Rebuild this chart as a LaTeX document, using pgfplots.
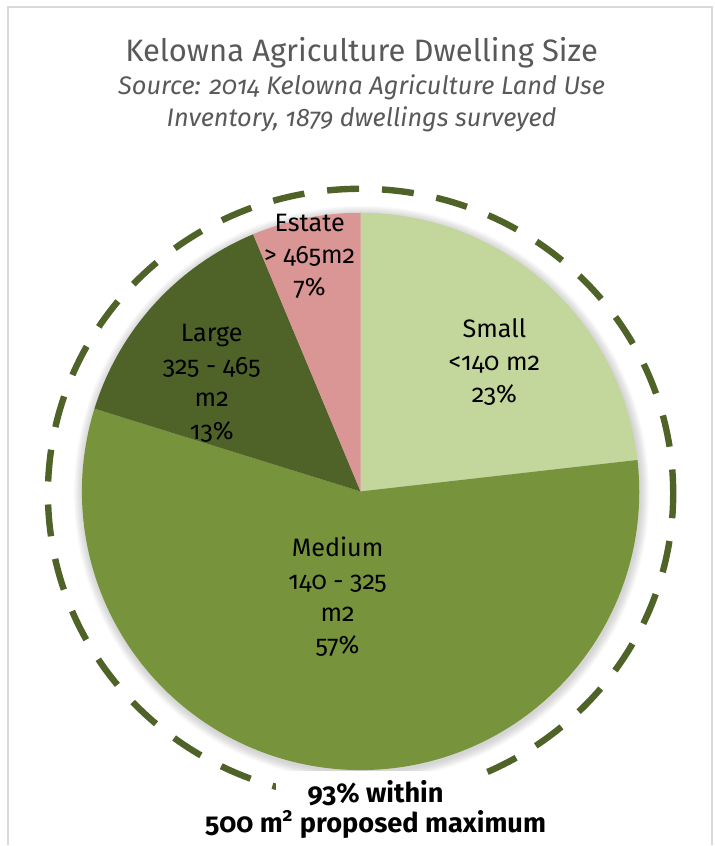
\documentclass[border=0pt]{standalone}
\usepackage{pgfplots}
\pgfplotsset{compat=1.18}
\usepackage{fontspec}
\setmainfont{Fira Sans}[Numbers=OldStyle]
\definecolor{cSmall}{HTML}{C3D69B}
\definecolor{cMedium}{HTML}{77933C}
\definecolor{cLarge}{HTML}{4F6228}
\definecolor{cEstate}{HTML}{D99694}
\definecolor{cDash}{HTML}{4F6228}
\definecolor{cTitle}{HTML}{595959}
\definecolor{cFrame}{HTML}{D9D9D9}
% slice shares in percent
\def\vSmall{23.2}
\def\vMedium{56.6}
\def\vLarge{13.9}
\def\vEstate{6.3}
\pgfmathsetmacro{\aA}{90}
\pgfmathsetmacro{\aB}{\aA-3.6*\vSmall}
\pgfmathsetmacro{\aC}{\aB-3.6*\vMedium}
\pgfmathsetmacro{\aD}{\aC-3.6*\vLarge}
\pgfmathsetmacro{\aE}{\aD-3.6*\vEstate}
% one node per text line: x (px), baseline y (px from top), text
\newcommand{\lbl}[3]{\node[anchor=base, inner sep=0pt] at (axis cs:#1,{846-#2}) {#3};}
\newcommand{\slice}[3]{\fill[#3] (axis cs:361,354) -- (axis cs:{361+279*cos(#1)},{354+279*sin(#1)})
     arc[start angle=#1, end angle=#2, radius=139.5pt] -- cycle;}
\newcommand{\lf}{\fontsize{12.6pt}{15pt}\selectfont}
\begin{document}
\begin{tikzpicture}
\begin{axis}[
  scale only axis, width=357.5pt, height=423pt,
  xmin=0, xmax=715, ymin=0, ymax=846,
  hide axis, clip=false]
% frame
\path (axis cs:0,0) rectangle (axis cs:715,846);
\draw[cFrame, line width=1pt] (axis cs:8,0) -- (axis cs:8,839) -- (axis cs:713,839) -- (axis cs:713,0);
% soft shadow
\pgfplotsinvokeforeach{280,281,282,283,284,285,286,287,288}{
  \fill[black, opacity=0.018] (axis cs:362,352) circle[radius=#1*0.5pt];
}
% pie slices
\slice{\aA}{\aB}{cSmall}
\slice{\aB}{\aC}{cMedium}
\slice{\aC}{\aD}{cLarge}
\slice{\aD}{\aE}{cEstate}
% dashed outline
\draw[cDash, line width=3.2pt, dash pattern=on 16pt off 11.5pt, dash phase=4pt]
  (axis cs:361,352) ellipse[x radius=156.5pt, y radius=152.5pt];
\fill[white] (axis cs:276,0) rectangle (axis cs:476,74);
% titles
\lbl{362}{62}{\fontsize{15.5pt}{18pt}\selectfont\color{cTitle}Kelowna Agriculture Dwelling Size}
\lbl{362}{95}{\fontsize{12.7pt}{16pt}\selectfont\color{cTitle}\itshape Source: 2014 Kelowna Agriculture Land Use}
\lbl{362}{127}{\fontsize{12.7pt}{16pt}\selectfont\color{cTitle}\itshape Inventory, 1879 dwellings surveyed}
% slice labels
\lbl{310}{232}{\lf Estate}
\lbl{310}{264}{\lf > 465m2}
\lbl{310}{296}{\lf 7\%}
\lbl{495}{338}{\lf Small}
\lbl{495}{371}{\lf <140 m2}
\lbl{495}{403}{\lf 23\%}
\lbl{212}{342}{\lf Large}
\lbl{212}{375}{\lf 325 - 465}
\lbl{212}{407}{\lf m2}
\lbl{212}{440}{\lf 13\%}
\lbl{338}{557}{\lf Medium}
\lbl{338}{590}{\lf 140 - 325}
\lbl{338}{622}{\lf m2}
\lbl{338}{654}{\lf 57\%}
% bottom note
\lbl{376}{803}{\fontsize{13.6pt}{16pt}\selectfont\bfseries 93\% within}
\lbl{376}{833}{\fontsize{13.6pt}{16pt}\selectfont\bfseries 500 m\textsuperscript{2} proposed maximum}
\end{axis}
\end{tikzpicture}
\end{document}
